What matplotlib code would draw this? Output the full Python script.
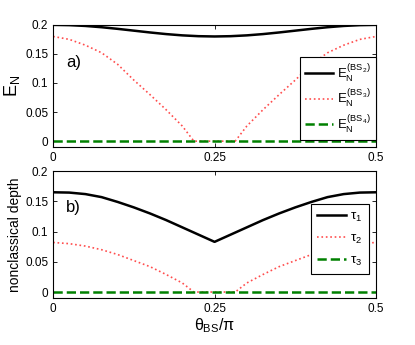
import numpy as np
import matplotlib
matplotlib.use('Agg')
import matplotlib.pyplot as plt

plt.rcParams['font.family'] = ['Liberation Sans', 'DejaVu Sans']
plt.rcParams['mathtext.fontset'] = 'custom'
plt.rcParams['mathtext.rm'] = 'Liberation Sans'
plt.rcParams['mathtext.it'] = 'Liberation Sans'
plt.rcParams['mathtext.sf'] = 'Liberation Sans'

## theta_BS / pi grids
theta = [0, 0.025, 0.05, 0.075, 0.1, 0.125, 0.15, 0.175, 0.2, 0.225, 0.25,
         0.275, 0.3, 0.325, 0.35, 0.375, 0.4, 0.425, 0.45, 0.475, 0.5]
theta_red = [0, 0.025, 0.05, 0.075, 0.1, 0.125, 0.15, 0.175, 0.2, 0.218, 0.25,
             0.282, 0.3, 0.325, 0.35, 0.375, 0.4, 0.425, 0.45, 0.475, 0.5]

# panel a) log negativity
en_bs2 = [0.2, 0.1995, 0.1981, 0.1959, 0.1931, 0.1900, 0.1869, 0.1841, 0.1819, 0.1805, 0.1800,
          0.1805, 0.1819, 0.1841, 0.1869, 0.1900, 0.1931, 0.1959, 0.1981, 0.1995, 0.2]
en_bs3 = [0.180, 0.175, 0.165, 0.152, 0.132, 0.105, 0.080, 0.054, 0.026, 0.0, 0.0,
          0.0, 0.026, 0.054, 0.080, 0.105, 0.132, 0.152, 0.165, 0.175, 0.180]
en_bs4 = [0.0] * 21

# panel b) nonclassical depth
tau1 = [0.165, 0.1645, 0.162, 0.157, 0.149, 0.140, 0.130, 0.119, 0.107, 0.095, 0.083,
        0.095, 0.107, 0.119, 0.130, 0.140, 0.149, 0.157, 0.162, 0.1645, 0.165]
tau2 = [0.082, 0.080, 0.076, 0.070, 0.062, 0.052, 0.042, 0.029, 0.015, 0.0, 0.0,
        0.0, 0.015, 0.029, 0.042, 0.052, 0.062, 0.070, 0.076, 0.080, 0.082]
tau3 = [0.0] * 21

xticks = [0, 0.25, 0.5]
xticklabels = ['0', '0.25', '0.5']
yticks = [0, 0.05, 0.1, 0.15, 0.2]
yticklabels = ['0', '0.05', '0.1', '0.15', '0.2']

red = (1.0, 0.3, 0.3)
green = (0.0, 0.5, 0.0)

fig = plt.figure(figsize=(4.15, 3.45), dpi=100)
ax1 = fig.add_axes([0.128, 0.574, 0.778, 0.354])
ax2 = fig.add_axes([0.128, 0.136, 0.778, 0.368])

ax1.plot(theta, en_bs2, '-', color='k', lw=1.8, label=r'$E_N^{(BS_2)}$')
ax1.plot(theta_red, en_bs3, ':', color=red, lw=1.2, label=r'$E_N^{(BS_3)}$')
ax1.plot(theta, en_bs4, '--', color=green, lw=1.8, label=r'$E_N^{(BS_4)}$')

ax2.plot(theta, tau1, '-', color='k', lw=1.8, label=r'$\tau_1$')
ax2.plot(theta_red, tau2, ':', color=red, lw=1.2, label=r'$\tau_2$')
ax2.plot(theta, tau3, '--', color=green, lw=1.8, label=r'$\tau_3$')

for ax in (ax1, ax2):
    ax.set_xlim(0, 0.5)
    ax.set_ylim(-0.01, 0.2)
    ax.set_xticks(xticks)
    ax.set_xticklabels(xticklabels)
    ax.set_yticks(yticks)
    ax.set_yticklabels(yticklabels)
    ax.tick_params(direction='in', top=True, right=True, labelsize=8.5, length=3, width=0.6)
    for s in ax.spines.values():
        s.set_linewidth(0.8)

ax1.set_ylabel(r'$E_N$', fontsize=13, labelpad=2)
ax2.set_ylabel('nonclassical depth', fontsize=10, labelpad=2)
ax2.set_xlabel(r'$\theta_{BS}/\pi$', fontsize=11.5, labelpad=1)

ax1.text(0.04, 0.69, 'a)', transform=ax1.transAxes, fontsize=12, va='center')
ax2.text(0.04, 0.71, 'b)', transform=ax2.transAxes, fontsize=12, va='center')

leg1 = ax1.legend(loc='upper right', bbox_to_anchor=(1.0, 0.74), fontsize=9.5,
                  fancybox=False, edgecolor='k', framealpha=1, handlelength=2.1,
                  borderaxespad=0, labelspacing=0.3, handletextpad=0.3, borderpad=0.4)
leg1.get_frame().set_linewidth(0.8)
leg2 = ax2.legend(loc='upper right', bbox_to_anchor=(0.978, 0.74), fontsize=9.5,
                  fancybox=False, edgecolor='k', framealpha=1, handlelength=2.2,
                  borderaxespad=0, labelspacing=0.65, handletextpad=0.3, borderpad=0.5)
leg2.get_frame().set_linewidth(0.8)

plt.savefig('out.png', dpi=100)
